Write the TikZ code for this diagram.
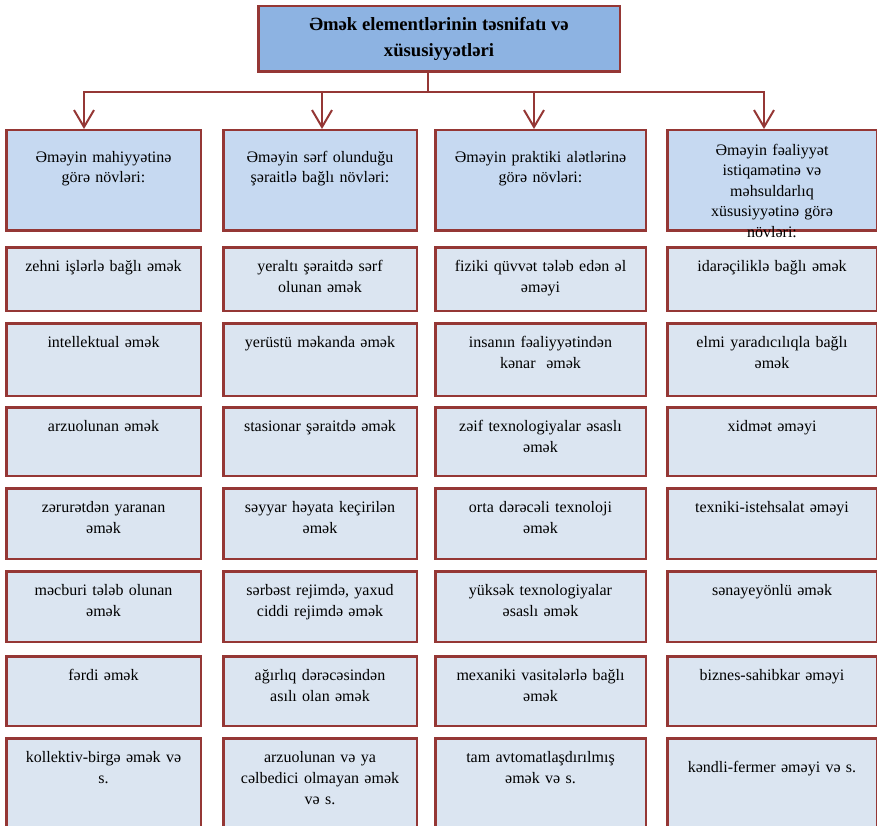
\documentclass[tikz,border=0pt]{standalone}
\usepackage{fontspec}
\setmainfont{Liberation Serif}
\usepackage{xcolor}
\usepackage{tikz}
\usetikzlibrary{arrows.meta,positioning}
\definecolor{boxRed}{RGB}{149,55,53}
\definecolor{blueOne}{RGB}{141,179,226}
\definecolor{blueTwo}{RGB}{198,217,241}
\definecolor{blueThree}{RGB}{219,229,241}
\tikzset{
  titlebox/.style={rectangle, draw=boxRed, line width=2.5pt, fill=blueOne, align=center, minimum width=361.5pt, minimum height=65.5pt, font=\bfseries\fontsize{18.7}{25.5}\selectfont},
  head/.style={rectangle, draw=boxRed, line width=2.5pt, fill=blueTwo, align=center, inner xsep=0pt, inner ysep=0pt, text height=32pt, text depth=68.5pt, font=\fontsize{16}{20.5}\selectfont},
  item/.style={rectangle, draw=boxRed, line width=2.5pt, fill=blueThree, align=center, inner xsep=0pt, inner ysep=0pt, text height=24.5pt, text depth=#1, font=\fontsize{16}{20.7}\selectfont},
  colA/.style={text width=194.5pt},
  colB/.style={text width=193.5pt},
  colC/.style={text width=210.5pt},
  colD/.style={text width=209.5pt},
  arrow/.style={-{Straight Barb[length=17pt, width=20pt]}, line width=2pt, draw=boxRed},
  link/.style={line width=2pt, line cap=rect, draw=boxRed}
}
\begin{document}
\begin{tikzpicture}[x=1pt, y=-1pt]
  \useasboundingbox (0,0) rectangle (877,826);
  \node[titlebox] (title) at (439,39) {Əmək elementlərinin təsnifatı və\\xüsusiyyətləri};
  \node[head, colA, anchor=north west] (nature) at (5,129) {Əməyin mahiyyətinə\\görə növləri:};
  \node[head, colB, anchor=north west] (cond) at (222,129) {Əməyin sərf olunduğu\\şəraitlə bağlı növləri:};
  \node[head, colC, anchor=north west] (tool) at (434,129) {Əməyin praktiki alətlərinə\\görə növləri:};
  \node[head, colD, anchor=north west, text height=25pt, text depth=75.5pt] (field) at (666,129) {Əməyin fəaliyyət\\istiqamətinə və\\məhsuldarlıq\\xüsusiyyətinə görə\\növləri:};

  \node[item=39pt, colA, below=14pt of nature] (nature1) {zehni işlərlə bağlı əmək};
  \node[item=48pt, colA, below=10pt of nature1] (nature2) {intellektual əmək};
  \node[item=44pt, colA, below=9pt of nature2] (nature3) {arzuolunan əmək};
  \node[item=46pt, colA, below=10pt of nature3] (nature4) {zərurətdən yaranan\\əmək};
  \node[item=46pt, colA, below=10pt of nature4] (nature5) {məcburi tələb olunan\\əmək};
  \node[item=45pt, colA, below=12pt of nature5] (nature6) {fərdi əmək};
  \node[item=73pt, colA, below=10pt of nature6] (nature7) {kollektiv-birgə əmək və\\s.};

  \node[item=39pt, colB, below=14pt of cond] (cond1) {yeraltı şəraitdə sərf\\olunan əmək};
  \node[item=48pt, colB, below=10pt of cond1] (cond2) {yerüstü məkanda əmək};
  \node[item=44pt, colB, below=9pt of cond2] (cond3) {stasionar şəraitdə əmək};
  \node[item=46pt, colB, below=10pt of cond3] (cond4) {səyyar həyata keçirilən\\əmək};
  \node[item=46pt, colB, below=10pt of cond4] (cond5) {sərbəst rejimdə, yaxud\\ciddi rejimdə əmək};
  \node[item=45pt, colB, below=12pt of cond5] (cond6) {ağırlıq dərəcəsindən\\asılı olan əmək};
  \node[item=73pt, colB, below=10pt of cond6] (cond7) {arzuolunan və ya\\cəlbedici olmayan əmək\\və s.};

  \node[item=39pt, colC, below=14pt of tool] (tool1) {fiziki qüvvət tələb edən əl\\əməyi};
  \node[item=48pt, colC, below=10pt of tool1] (tool2) {insanın fəaliyyətindən\\kənar\ \ əmək};
  \node[item=44pt, colC, below=9pt of tool2] (tool3) {zəif texnologiyalar əsaslı\\əmək};
  \node[item=46pt, colC, below=10pt of tool3] (tool4) {orta dərəcəli texnoloji\\əmək};
  \node[item=46pt, colC, below=10pt of tool4] (tool5) {yüksək texnologiyalar\\əsaslı əmək};
  \node[item=45pt, colC, below=12pt of tool5] (tool6) {mexaniki vasitələrlə bağlı\\əmək};
  \node[item=73pt, colC, below=10pt of tool6] (tool7) {tam avtomatlaşdırılmış\\əmək və s.};

  \node[item=39pt, colD, below=14pt of field] (field1) {idarəçiliklə bağlı əmək};
  \node[item=48pt, colD, below=10pt of field1] (field2) {elmi yaradıcılıqla bağlı\\əmək};
  \node[item=44pt, colD, below=9pt of field2] (field3) {xidmət əməyi};
  \node[item=46pt, colD, below=10pt of field3] (field4) {texniki-istehsalat əməyi};
  \node[item=46pt, colD, below=10pt of field4] (field5) {sənayeyönlü əmək};
  \node[item=45pt, colD, below=12pt of field5] (field6) {biznes-sahibkar əməyi};
  \node[item=63.5pt, colD, below=10pt of field6, text height=34pt] (field7) {kəndli-fermer əməyi və s.};

  \coordinate (fork) at (428,92.5);
  \coordinate (busA) at (84,92.5);
  \coordinate (busB) at (322,92.5);
  \coordinate (busC) at (534,92.5);
  \coordinate (busD) at (764,92.5);
  \draw[link] (title.south -| fork) -- (fork);
  \draw[link] (busA) -- (busD);
  \draw[arrow] (busA) -- (busA |- nature.north);
  \draw[arrow] (busB) -- (busB |- cond.north);
  \draw[arrow] (busC) -- (busC |- tool.north);
  \draw[arrow] (busD) -- (busD |- field.north);
\end{tikzpicture}
\end{document}
